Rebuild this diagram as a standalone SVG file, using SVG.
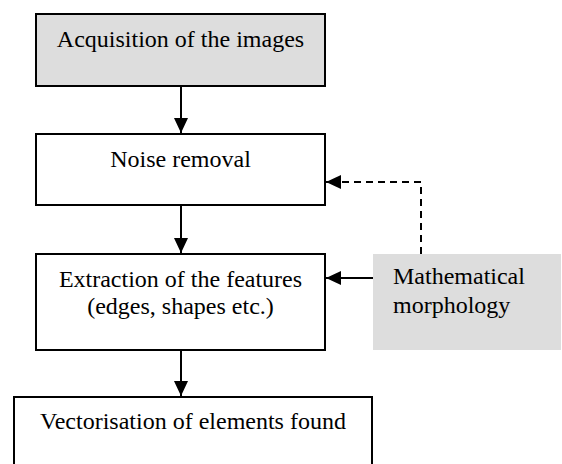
<svg xmlns="http://www.w3.org/2000/svg" width="562" height="464" viewBox="0 0 562 464">
<style>
.box{stroke:#000;stroke-width:2;fill:#fff}
.gray{fill:#dddddd}
.t{font-family:"Liberation Serif","Times New Roman",serif;font-size:24px;fill:#000}
.c{text-anchor:middle}
.ln{stroke:#000;stroke-width:2;fill:none}
.dash{stroke-dasharray:7 5}
</style>
<defs>
<marker id="ah" markerWidth="15" markerHeight="14" refX="15" refY="7" orient="auto" markerUnits="userSpaceOnUse">
<path d="M0,0 L15,7 L0,14 Z" fill="#000"/>
</marker>
</defs>
<rect width="562" height="464" fill="#fff"/>
<g id="acquisition">
<rect class="box gray" x="36" y="14" width="289" height="72"/>
<text class="t c" x="180.5" y="47">Acquisition of the images</text>
</g>
<g id="noise">
<rect class="box" x="36" y="134" width="289" height="71"/>
<text class="t c" x="180.5" y="167">Noise removal</text>
</g>
<g id="extraction">
<rect class="box" x="36" y="254" width="289" height="96"/>
<text class="t c" x="180.5" y="287">Extraction of the features</text>
<text class="t c" x="180.5" y="314">(edges, shapes etc.)</text>
</g>
<g id="morphology">
<rect class="gray" x="373" y="254" width="188" height="96"/>
<text class="t" x="393" y="284">Mathematical</text>
<text class="t" x="393" y="313">morphology</text>
</g>
<g id="vectorisation">
<rect class="box" x="14" y="397" width="358" height="80"/>
<text class="t c" x="193" y="429">Vectorisation of elements found</text>
</g>
<g id="connectors">
<line class="ln" x1="181" y1="87" x2="181" y2="133" marker-end="url(#ah)"/>
<line class="ln" x1="181" y1="206" x2="181" y2="253" marker-end="url(#ah)"/>
<line class="ln" x1="181" y1="351" x2="181" y2="396" marker-end="url(#ah)"/>
<line class="ln" x1="373" y1="278" x2="326" y2="278" marker-end="url(#ah)"/>
<polyline class="ln dash" points="421,254 421,182 340,182"/>
<line class="ln" x1="341" y1="182" x2="326" y2="182" marker-end="url(#ah)"/>
</g>
</svg>
